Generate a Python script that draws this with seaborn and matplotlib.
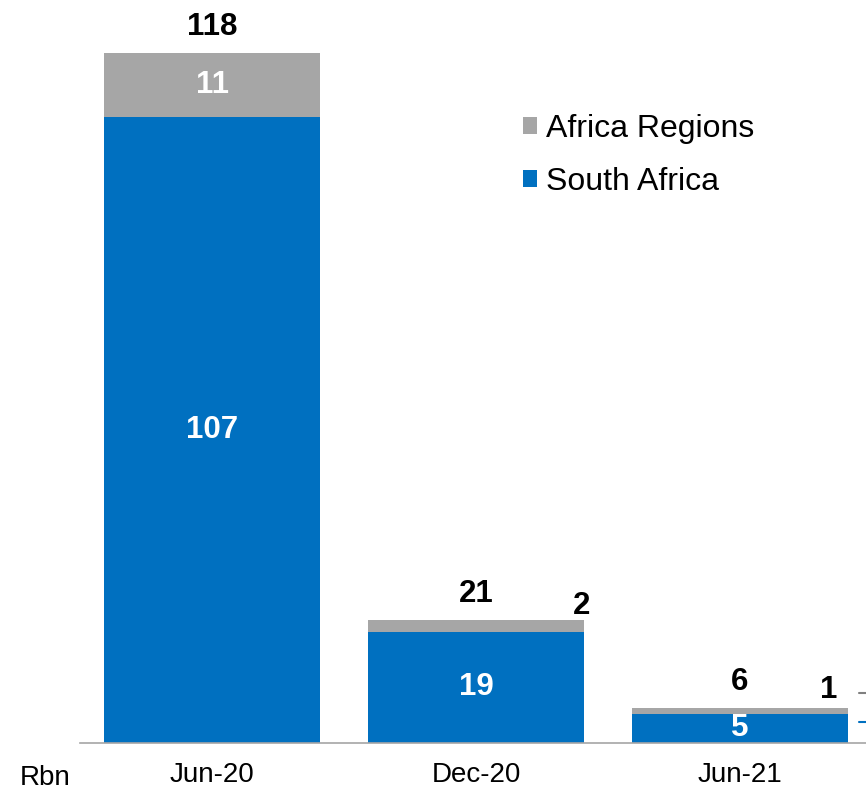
import matplotlib
matplotlib.use("Agg")
import matplotlib.pyplot as plt
import pandas as pd
import seaborn as sns

# Dati (Rbn)
periods = ["Jun-20", "Dec-20", "Jun-21"]
south_africa = [107, 19, 5]
africa_regions = [11, 2, 1]
totals = [s + a for s, a in zip(south_africa, africa_regions)]

BLUE = "#0070C0"
GREY = "#A6A6A6"

sns.set_theme(style="white")
plt.rcParams["font.family"] = ["Liberation Sans", "DejaVu Sans"]
plt.rcParams["text.color"] = "black"

df = pd.DataFrame({"period": periods, "south_africa": south_africa,
                   "africa_regions": africa_regions, "total": totals})

fig = plt.figure(figsize=(8.66, 7.9), dpi=100)
ax = fig.add_axes([80 / 866, 47 / 790, 1 - 80 / 866, 1 - 47 / 790])

# barre impilate: totale grigio sotto, South Africa blu sopra
sns.barplot(data=df, x="period", y="total", color=GREY, width=0.818,
            saturation=1, linewidth=0, ax=ax, label="Africa Regions")
sns.barplot(data=df, x="period", y="south_africa", color=BLUE, width=0.818,
            saturation=1, linewidth=0, ax=ax, label="South Africa")

ax.set_xlim(-0.5, 2.477)
ax.set_ylim(0, 127)

# etichette
for i, row in df.iterrows():
    ax.annotate(str(row["total"]), (i, row["total"]), xytext=(0, 18.5),
                textcoords="offset points", ha="center", va="center",
                fontsize=22.5, fontweight="bold", color="black")
    ax.text(i, row["south_africa"] / 2, str(row["south_africa"]),
            ha="center", va="center", fontsize=22.5, fontweight="bold",
            color="white")

# Africa Regions: dentro la barra se c'e' spazio, altrimenti a destra sopra
ax.text(0, south_africa[0] + africa_regions[0] / 2, str(africa_regions[0]),
        ha="center", va="center", fontsize=22.5, fontweight="bold", color="white")
ax.annotate(str(africa_regions[1]), (1 + 0.4, totals[1]), xytext=(0, 10),
            textcoords="offset points", ha="center", va="center",
            fontsize=22.5, fontweight="bold", color="black")
ax.annotate(str(africa_regions[2]), (2 + 0.337, totals[2]), xytext=(0, 13),
            textcoords="offset points", ha="center", va="center",
            fontsize=22.5, fontweight="bold", color="black")

# trattini a destra dell'ultima barra
ax.plot([2.45, 2.49], [8.5, 8.5], color="#808080", lw=1.5, clip_on=False)
ax.plot([2.45, 2.49], [3.6, 3.6], color=BLUE, lw=1.5, clip_on=False)

# assi
for side in ["top", "right", "left"]:
    ax.spines[side].set_visible(False)
ax.spines["bottom"].set_color(GREY)
ax.spines["bottom"].set_linewidth(1.2)
ax.set_yticks([])
ax.set_xlabel("")
ax.set_ylabel("")
ax.tick_params(axis="x", length=0, pad=14, labelsize=20, colors="black")
fig.text(45 / 866, 1 - 778 / 790, "Rbn", ha="center", va="center",
         fontsize=20, color="black")

# legenda
handles, labels = ax.get_legend_handles_labels()
leg = ax.legend(handles, labels, loc="upper left", bbox_to_anchor=(0.563, 0.847),
                frameon=False, fontsize=23, handlelength=0.45, handleheight=0.45,
                handletextpad=0.3, labelspacing=0.72, borderaxespad=0,
                borderpad=0, labelcolor="black")

fig.savefig("out.png", dpi=100)
